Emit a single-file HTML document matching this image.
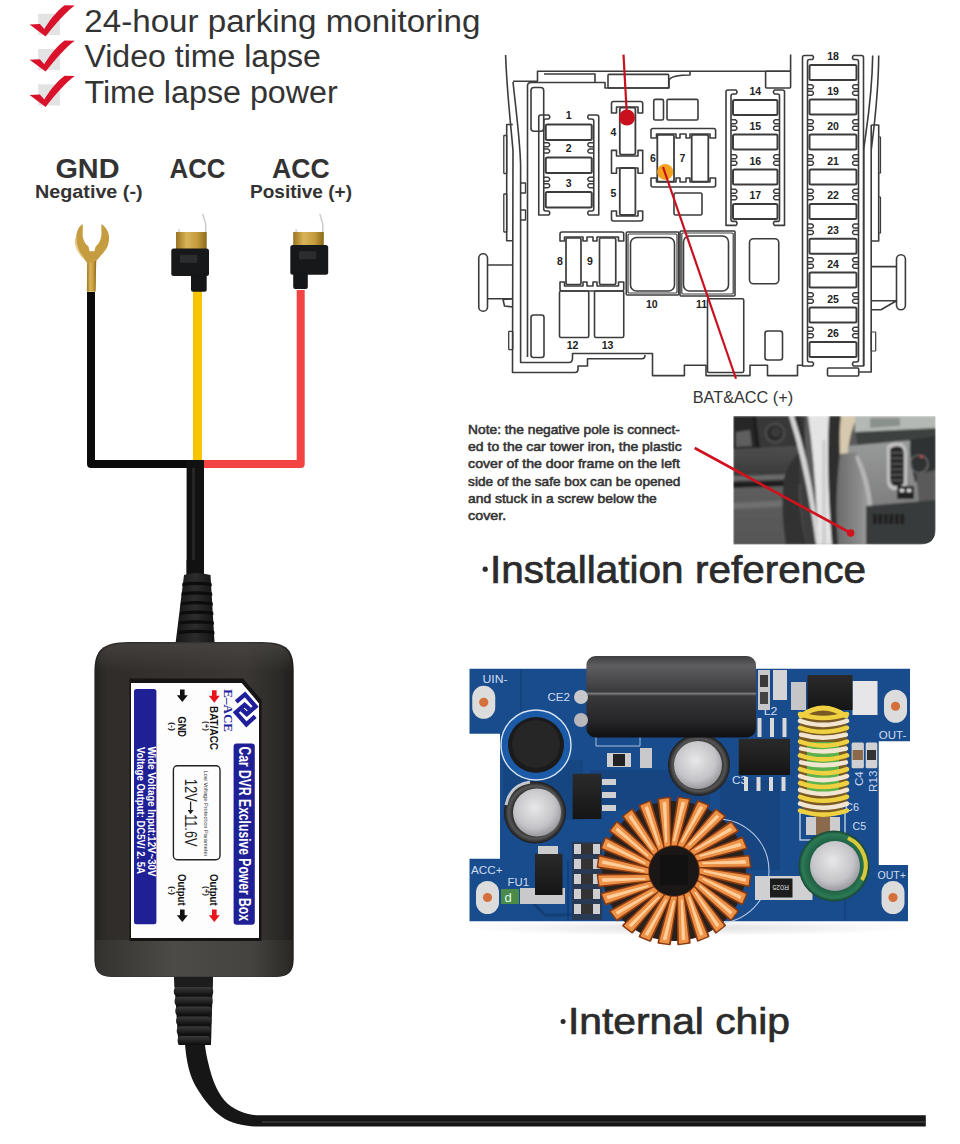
<!DOCTYPE html>
<html><head><meta charset="utf-8">
<style>
html,body{margin:0;padding:0;background:#fff;}
body{width:960px;height:1144px;overflow:hidden;position:relative;font-family:"Liberation Sans", sans-serif;}
svg{position:absolute;left:0;top:0;}
</style></head><body>
<svg width="960" height="1144" viewBox="0 0 960 1144" font-family='"Liberation Sans", sans-serif'>
<rect x="38.2" y="13.8" width="21.8" height="21.2" fill="#e3e3e3"/><path d="M29.6 24.6 L39.9 24.1 L44.3 29.0 C48.5 22 55 12.5 64.6 5.2 L74.9 5.6 C67 11 55.5 24 45.6 36.4 Z" fill="#d9122b"/><rect x="38.2" y="49.0" width="21.8" height="21.2" fill="#e3e3e3"/><path d="M29.6 59.800000000000004 L39.9 59.300000000000004 L44.3 64.2 C48.5 57.2 55 47.7 64.6 40.400000000000006 L74.9 40.800000000000004 C67 46.2 55.5 59.2 45.6 71.6 Z" fill="#d9122b"/><rect x="38.2" y="84.3" width="21.8" height="21.2" fill="#e3e3e3"/><path d="M29.6 95.1 L39.9 94.6 L44.3 99.5 C48.5 92.5 55 83.0 64.6 75.7 L74.9 76.1 C67 81.5 55.5 94.5 45.6 106.9 Z" fill="#d9122b"/><text x="84.3" y="31.8" font-size="31" font-weight="normal" fill="#333" text-anchor="start" textLength="396.1" lengthAdjust="spacingAndGlyphs" >24-hour parking monitoring</text><text x="84.4" y="67.1" font-size="31" font-weight="normal" fill="#333" text-anchor="start" textLength="236.5" lengthAdjust="spacingAndGlyphs" >Video time lapse</text><text x="84.4" y="102.5" font-size="31" font-weight="normal" fill="#333" text-anchor="start" textLength="253.4" lengthAdjust="spacingAndGlyphs" >Time lapse power</text><text x="55.4" y="177.7" font-size="27.5" font-weight="bold" fill="#333" text-anchor="start" textLength="64.1" lengthAdjust="spacingAndGlyphs" >GND</text><text x="169.5" y="178" font-size="27.5" font-weight="bold" fill="#333" text-anchor="start" textLength="56" lengthAdjust="spacingAndGlyphs" >ACC</text><text x="272" y="178" font-size="27.5" font-weight="bold" fill="#333" text-anchor="start" textLength="57.7" lengthAdjust="spacingAndGlyphs" >ACC</text><text x="35" y="197.6" font-size="19" font-weight="bold" fill="#333" text-anchor="start" textLength="107.6" lengthAdjust="spacingAndGlyphs" >Negative (-)</text><text x="250" y="197.8" font-size="19" font-weight="bold" fill="#333" text-anchor="start" textLength="102" lengthAdjust="spacingAndGlyphs" >Positive (+)</text><path d="M91 292 L91 464 L195 464" stroke="#0b0b0b" stroke-width="8" fill="none" stroke-linejoin="round"/><path d="M197.5 290 L197.5 462" stroke="#f8c400" stroke-width="9" fill="none"/><path d="M300.7 290 L300.7 464 L203 464" stroke="#f44343" stroke-width="8" fill="none" stroke-linejoin="round"/><rect x="186.6" y="460" width="17.4" height="116" fill="#111"/><rect x="192" y="468" width="3" height="100" fill="#333" opacity="0.6"/><defs><linearGradient id="gold" x1="0" x2="1"><stop offset="0" stop-color="#9a7420"/><stop offset="0.35" stop-color="#d8b45a"/><stop offset="0.7" stop-color="#c49a3c"/><stop offset="1" stop-color="#8c6a1c"/></linearGradient><linearGradient id="boxg" x1="0" x2="1"><stop offset="0" stop-color="#2a2724"/><stop offset="0.15" stop-color="#34312d"/><stop offset="0.6" stop-color="#3e3b38"/><stop offset="1" stop-color="#252320"/></linearGradient><linearGradient id="boxb" x1="0" x2="1"><stop offset="0" stop-color="#3a3835"/><stop offset="0.5" stop-color="#4e4c49"/><stop offset="1" stop-color="#2e2c29"/></linearGradient></defs><path d="M82.8 223.9 C76 228 73.5 240 79.9 252.2 C82 256 85 260 87.3 263.3 L86.9 291.6 L95.5 291.6 L96.2 261.1 C100 256 107 250 108.1 244.7 C110 238 110 230 101.4 223.9 L101.4 231 C102 238 99.5 244 95.8 246.2 L94.3 251.2 L89.6 251.2 L88.4 246.2 C84.5 244 82 238 82.8 231 Z" fill="#c59c40"/><path d="M87.3 263.3 L96.2 261.1 L95.5 291.6 L86.9 291.6 Z" fill="url(#gold)"/><path d="M76 238 C75 246 78 252 84 258" stroke="#d9b560" stroke-width="2" fill="none" opacity="0.7"/><path d="M202.7 214 L205.7 224 L205.7 233" stroke="#cfcfcf" stroke-width="1.6" fill="none"/><rect x="178" y="229" width="2" height="4" fill="#ddd"/><rect x="176" y="232" width="30.69999999999999" height="17.5" fill="url(#gold)"/><rect x="171.3" y="248.5" width="37.69999999999999" height="27.5" rx="2.5" fill="#171819"/><rect x="180.0" y="254.8" width="17.2" height="8" fill="#2c2d2e"/><rect x="191" y="274" width="15.699999999999989" height="17.80000000000001" rx="2" fill="#151617"/><path d="M319.8 214 L322.8 224 L322.8 233" stroke="#cfcfcf" stroke-width="1.6" fill="none"/><rect x="295.2" y="229" width="2" height="4" fill="#ddd"/><rect x="293.2" y="232" width="30.600000000000023" height="14" fill="url(#gold)"/><rect x="290.3" y="245" width="37.89999999999998" height="29.69999999999999" rx="2.5" fill="#171819"/><rect x="299.0" y="251.3" width="17.2" height="8" fill="#2c2d2e"/><rect x="293.2" y="272.7" width="14.600000000000023" height="16.30000000000001" rx="2" fill="#151617"/><defs><linearGradient id="bxg" x1="0" x2="1"><stop offset="0" stop-color="#242220"/><stop offset="0.06" stop-color="#2f2c29"/><stop offset="0.35" stop-color="#34312e"/><stop offset="0.75" stop-color="#3a3734"/><stop offset="0.93" stop-color="#2c2a27"/><stop offset="1" stop-color="#1f1d1b"/></linearGradient><linearGradient id="bxt" x1="0" x2="0" y1="0" y2="1"><stop offset="0" stop-color="#3c3a37"/><stop offset="1" stop-color="#2e2b28"/></linearGradient><linearGradient id="bxb" x1="0" x2="1"><stop offset="0" stop-color="#34322f"/><stop offset="0.4" stop-color="#4d4b48"/><stop offset="0.8" stop-color="#45433f"/><stop offset="1" stop-color="#2a2825"/></linearGradient><linearGradient id="boot" x1="0" x2="1"><stop offset="0" stop-color="#161616"/><stop offset="0.5" stop-color="#2c2c2c"/><stop offset="1" stop-color="#141414"/></linearGradient></defs><path d="M186.6 560 L204 560 L204 576 L186.6 576 Z" fill="#111"/><path d="M184 575 Q195 571 210.5 575 L214.5 642 L175.7 642 Z" fill="url(#boot)"/><path d="M182.5 583.0 Q195 580.5 211.5 583.0 L211.8 586.2 Q195 583.8 182.2 586.2 Z" fill="#0c0c0c"/><path d="M181.75 592.6 Q195 590.1 212.05 592.6 L212.35000000000002 595.8000000000001 Q195 593.4 181.45 595.8000000000001 Z" fill="#0c0c0c"/><path d="M181.0 602.2 Q195 599.7 212.6 602.2 L212.9 605.4000000000001 Q195 603.0 180.7 605.4000000000001 Z" fill="#0c0c0c"/><path d="M180.25 611.8 Q195 609.3 213.15 611.8 L213.45000000000002 615.0 Q195 612.5999999999999 179.95 615.0 Z" fill="#0c0c0c"/><path d="M179.5 621.4 Q195 618.9 213.7 621.4 L214.0 624.6 Q195 622.1999999999999 179.2 624.6 Z" fill="#0c0c0c"/><path d="M178.75 631.0 Q195 628.5 214.25 631.0 L214.55 634.2 Q195 631.8 178.45 634.2 Z" fill="#0c0c0c"/><path d="M94.4 672 C94.4 650 102 642.5 128 642 L262 642 C288 642.5 293.7 650 293.7 672 L293.7 958 C293.7 972 289 977 274 977 L114 977 C99 977 94.4 972 94.4 958 Z" fill="url(#bxg)"/><linearGradient id="toprim" x1="0" x2="0" y1="0" y2="1"><stop offset="0" stop-color="#4a4744" stop-opacity="0.7"/><stop offset="1" stop-color="#4a4744" stop-opacity="0"/></linearGradient><path d="M96 672 C96 652 103 643.5 128 643.5 L262 643.5 C287 643.5 292 652 292 672 Z" fill="url(#toprim)"/><path d="M96 940 L292 940 L292.5 960 C292.5 972 288 976.5 274 976.5 L114 976.5 C100 976.5 95.5 972 95.5 960 Z" fill="url(#bxb)"/><path d="M129.5 678.5 L243 678.5 L261.5 700 L261.5 941 L129.5 941 Z" fill="#151412"/><path d="M131 683 L241.7 683 L259 703.4 L259 938 L131 938 Z" fill="#fdfdfd"/><rect x="134" y="688.9" width="22.4" height="235.3" rx="2.5" fill="#1f1f96"/><rect x="233.6" y="743.5" width="21.2" height="181.2" rx="3" fill="#1f1f96"/><text transform="translate(148.0 746.5) rotate(90)" x="0" y="0" font-size="10.2" font-weight="bold" fill="#fff" textLength="130" lengthAdjust="spacingAndGlyphs" >Wide Voltage Input:12V~30V</text><text transform="translate(136.5 747) rotate(90)" x="0" y="0" font-size="10.8" font-weight="bold" fill="#fff" textLength="127" lengthAdjust="spacingAndGlyphs" >Voltage  Output: DC5V/ 2. 5A</text><text transform="translate(239.3 746.5) rotate(90)" x="0" y="0" font-size="16" font-weight="bold" fill="#fff" textLength="174.5" lengthAdjust="spacingAndGlyphs" >Car DVR Exclusive Power Box</text><path d="M179.99 689.6 L184.61 689.6 L184.61 695.225 L187.8 695.225 L182.3 702.1 L176.8 695.225 L179.99 695.225 Z" fill="#111"/><path d="M211.99 690.2 L216.61 690.2 L216.61 695.825 L219.8 695.825 L214.3 702.7 L208.8 695.825 L211.99 695.825 Z" fill="#e8141c"/><path d="M179.99 909.5 L184.61 909.5 L184.61 915.125 L187.8 915.125 L182.3 922.0 L176.8 915.125 L179.99 915.125 Z" fill="#111"/><path d="M211.99 909.5 L216.61 909.5 L216.61 915.125 L219.8 915.125 L214.3 922.0 L208.8 915.125 L211.99 915.125 Z" fill="#e8141c"/><text transform="translate(210.3 706) rotate(90)" x="0" y="0" font-size="10.5" font-weight="bold" fill="#111" textLength="44" lengthAdjust="spacingAndGlyphs" >BAT/ACC</text><text transform="translate(203.8 721) rotate(90)" x="0" y="0" font-size="6.5" font-weight="bold" fill="#222" textLength="10" lengthAdjust="spacingAndGlyphs" >(+)</text><text transform="translate(177.5 716.6) rotate(90)" x="0" y="0" font-size="10" font-weight="bold" fill="#111" textLength="20.4" lengthAdjust="spacingAndGlyphs" >GND</text><text transform="translate(170.2 722) rotate(90)" x="0" y="0" font-size="6.5" font-weight="bold" fill="#222" textLength="9" lengthAdjust="spacingAndGlyphs" >(-)</text><text transform="translate(210.3 874) rotate(90)" x="0" y="0" font-size="10.5" font-weight="bold" fill="#111" textLength="31.7" lengthAdjust="spacingAndGlyphs" >Output</text><text transform="translate(203.8 886) rotate(90)" x="0" y="0" font-size="6.5" font-weight="bold" fill="#222" textLength="10" lengthAdjust="spacingAndGlyphs" >(+)</text><text transform="translate(177.5 874) rotate(90)" x="0" y="0" font-size="10.5" font-weight="bold" fill="#111" textLength="31.7" lengthAdjust="spacingAndGlyphs" >Output</text><text transform="translate(170.2 886) rotate(90)" x="0" y="0" font-size="6.5" font-weight="bold" fill="#222" textLength="9" lengthAdjust="spacingAndGlyphs" >(-)</text><rect x="173.4" y="765.8" width="46.6" height="94" rx="4" fill="none" stroke="#222" stroke-width="1.4"/><text transform="translate(184.8 778.8) rotate(90)" x="0" y="0" font-size="16" font-weight="normal" fill="#222" textLength="23" lengthAdjust="spacingAndGlyphs" >12V</text><path d="M190.6 801.5 L190.6 812" stroke="#222" stroke-width="1.3" fill="none"/><path d="M187.6 810 L190.6 814.2 L193.6 810 Z" fill="#222"/><text transform="translate(184.8 814.2) rotate(90)" x="0" y="0" font-size="16" font-weight="normal" fill="#222" textLength="32.2" lengthAdjust="spacingAndGlyphs" >11.6V</text><text transform="translate(204 770.5) rotate(90)" x="0" y="0" font-size="5.8" font-weight="normal" fill="#333" textLength="86" lengthAdjust="spacingAndGlyphs" >Low Voltage Protection Parameter</text><text transform="translate(224.4 689.3) rotate(90)" x="0" y="0" font-size="13.5" font-weight="bold" fill="#22229a" font-family='"Liberation Serif", serif' textLength="42.7" lengthAdjust="spacingAndGlyphs" >E–ACE</text><path d="M236.2 701.8 L245 694.4 L255.6 706.6 L246.8 714.2 L241.8 709.6" stroke="#1f1f9c" stroke-width="4.3" fill="none" stroke-linejoin="miter"/><path d="M255.2 716.4 L246.4 724.4 L235.8 712.4 L244.6 704.8 L249.6 709.4" stroke="#1f1f9c" stroke-width="4.3" fill="none" stroke-linejoin="miter"/><linearGradient id="rib" x1="0" x2="0" y1="0" y2="1"><stop offset="0" stop-color="#3a3a3a"/><stop offset="0.45" stop-color="#262626"/><stop offset="1" stop-color="#0c0c0c"/></linearGradient><path d="M184.7 1040 C186 1062 190 1078 198 1090 C205 1101 212 1110 222 1117 C232 1124 245 1126.6 262 1126.6 L925.8 1126.6 L925.8 1115.2 L262 1115.2 C249 1115.8 238 1112 228 1104 C219 1096 213 1082 209.5 1068 C207 1058 205 1050 204.7 1040 Z" fill="#161616"/><path d="M262 1122 L925 1122" stroke="#3a3a3a" stroke-width="1.6" fill="none"/><path d="M174 977 L213 977 L211 1045 L178.5 1045 Z" fill="#141414"/><rect x="174.5" y="977" width="38" height="10" fill="#1d1d1d"/><rect x="173.8" y="987.0" width="39.4" height="9" rx="4" fill="url(#rib)"/><rect x="174.6" y="996.8" width="38.0" height="9" rx="4" fill="url(#rib)"/><rect x="175.3" y="1006.6" width="36.7" height="9" rx="4" fill="url(#rib)"/><rect x="176.1" y="1016.4" width="35.3" height="9" rx="4" fill="url(#rib)"/><rect x="176.8" y="1026.2" width="34.0" height="9" rx="4" fill="url(#rib)"/><rect x="177.6" y="1036.0" width="32.6" height="9" rx="4" fill="url(#rib)"/><path d="M505.6 55 C507 95 511 125 513 151 L512.5 372.5 L575 372.5 Q578 372.5 578 369 L578 366 L587.5 366 L587.5 358.75 L642 358.75 Q645 358.75 645 355" stroke="#3c3c3c" stroke-width="1.6" fill="none" stroke-linejoin="round"/><path d="M513 81.3 L537.5 81.3 L537.5 71.3 L790.6 71.3 L790.6 54.6" stroke="#3c3c3c" stroke-width="1.6" fill="none" stroke-linejoin="round"/><path d="M513 82 C516 110 520 140 520.6 165 L520.6 362.5 L569 362.5 Q572.5 362.5 572.5 358 L572.5 353.5 L652.5 353.5 L652.5 375.6 L684.4 375.6 L684.4 365.3 L706 365.3 L706 375.6 L750 375.6 L750 365.3 L767.5 365.3 L767.5 375.6 L797.5 375.6 L797.5 365.3 L803 365.3" stroke="#3c3c3c" stroke-width="1.6" fill="none" stroke-linejoin="round"/><path d="M527.5 357 L527.5 86 Q527.5 82.5 531 82.5 L605 82.5 L605 88 L669 88 L669 80 Q672 75 690 75 L690 71.3" stroke="#3c3c3c" stroke-width="1.6" fill="none" stroke-linejoin="round"/><path d="M544 74 L595 74 L595 82.5" stroke="#3c3c3c" stroke-width="1.6" fill="none" stroke-linejoin="round"/><rect x="608" y="74.4" width="60.7" height="13.6" rx="1" stroke="#3c3c3c" stroke-width="1.6" fill="none"/><rect x="765.6" y="71.3" width="25" height="16.7" rx="1" stroke="#3c3c3c" stroke-width="1.6" fill="none"/><path d="M512.8 124.5 L506.7 124.5 L506.7 240.7 L512.8 240.7" stroke="#3c3c3c" stroke-width="1.6" fill="none" stroke-linejoin="round"/><rect x="503.8" y="135.5" width="2.9" height="38" rx="0.5" stroke="#3c3c3c" stroke-width="1.3" fill="none"/><rect x="503.8" y="194" width="2.9" height="38" rx="0.5" stroke="#3c3c3c" stroke-width="1.3" fill="none"/><rect x="508.7" y="331.3" width="4.1" height="18.3" rx="0.5" stroke="#3c3c3c" stroke-width="1.3" fill="none"/><path d="M512.8 298.75 L503 299.5 L504.5 306 L512.8 307" stroke="#3c3c3c" stroke-width="1.6" fill="none" stroke-linejoin="round"/><path d="M520.6 183 L525.5 183 L525.5 193 L520.6 193 M520.6 210 L525.5 210 L525.5 220 L520.6 220" stroke="#3c3c3c" stroke-width="1.3" fill="none" stroke-linejoin="round"/><rect x="478.75" y="253.75" width="8.75" height="57.5" rx="4.3" stroke="#3c3c3c" stroke-width="1.6" fill="none"/><path d="M487.5 265 L512.8 265 M487.5 298.75 L512.8 298.75" stroke="#3c3c3c" stroke-width="1.6" fill="none" stroke-linejoin="round"/><path d="M872.7 55.4 C872 100 866 130 863.8 149 L863.8 366" stroke="#3c3c3c" stroke-width="1.6" fill="none" stroke-linejoin="round"/><path d="M878.7 55.4 C878.5 95 874 128 871.2 150 M871.2 125 L871.2 372 L859 372" stroke="#3c3c3c" stroke-width="1.6" fill="none" stroke-linejoin="round"/><path d="M871.2 125 L878.7 125 L878.7 241 L871.2 241" stroke="#3c3c3c" stroke-width="1.6" fill="none" stroke-linejoin="round"/><path d="M878.7 137 L880.5 137 L880.5 173 L878.7 173 M878.7 197 L880.5 197 L880.5 233 L878.7 233" stroke="#3c3c3c" stroke-width="1.2" fill="none" stroke-linejoin="round"/><rect x="896.5" y="254.7" width="8.9" height="55" rx="4.4" stroke="#3c3c3c" stroke-width="1.6" fill="none"/><path d="M871.2 266.6 L896.5 266.6 M871.2 300.8 L896.5 300.8 L881 309.7 L871.2 309.7" stroke="#3c3c3c" stroke-width="1.6" fill="none" stroke-linejoin="round"/><rect x="871.2" y="332" width="4.5" height="19" rx="0.5" stroke="#3c3c3c" stroke-width="1.2" fill="none"/><rect x="827.5" y="368" width="31.2" height="8" rx="1" stroke="#3c3c3c" stroke-width="1.6" fill="none"/><rect x="531" y="87.5" width="12.7" height="43.7" rx="3" stroke="#3c3c3c" stroke-width="1.6" fill="none"/><path d="M538.75 215 L538.75 117 Q538.75 115 540.75 115 L548.75 115 Q550.75 117 548.75 119 L545.75 119 Q543.75 119 543.75 121 L543.75 209 Q543.75 211 545.75 211 L548.75 211 Q550.75 213 548.75 215 Z" stroke="#3c3c3c" stroke-width="1.6" fill="none" stroke-linejoin="round"/><path d="M598.75 215 L598.75 117 Q598.75 115 596.75 115 L588.75 115 Q586.75 117 588.75 119 L591.75 119 Q593.75 119 593.75 121 L593.75 209 Q593.75 211 591.75 211 L588.75 211 Q586.75 213 588.75 215 Z" stroke="#3c3c3c" stroke-width="1.6" fill="none" stroke-linejoin="round"/><rect x="545.75" y="124.4" width="46.0" height="15.5" rx="1.5" stroke="#3c3c3c" stroke-width="2.0" fill="none"/><text x="568.75" y="119.4" font-size="10.5" font-weight="bold" fill="#222" text-anchor="middle">1</text><rect x="545.75" y="157.4" width="46.0" height="15.5" rx="1.5" stroke="#3c3c3c" stroke-width="2.0" fill="none"/><path d="M543.75 142.70000000000002 L548.25 142.70000000000002 Q551.25 144.70000000000002 548.25 146.70000000000002 L543.75 146.70000000000002" stroke="#3c3c3c" stroke-width="1.5" fill="none" stroke-linejoin="round"/><path d="M543.75 149.1 L548.25 149.1 Q551.25 151.1 548.25 153.1 L543.75 153.1" stroke="#3c3c3c" stroke-width="1.5" fill="none" stroke-linejoin="round"/><path d="M593.75 142.70000000000002 L589.25 142.70000000000002 Q586.25 144.70000000000002 589.25 146.70000000000002 L593.75 146.70000000000002" stroke="#3c3c3c" stroke-width="1.5" fill="none" stroke-linejoin="round"/><path d="M593.75 149.1 L589.25 149.1 Q586.25 151.1 589.25 153.1 L593.75 153.1" stroke="#3c3c3c" stroke-width="1.5" fill="none" stroke-linejoin="round"/><text x="568.75" y="152.4" font-size="10.5" font-weight="bold" fill="#222" text-anchor="middle">2</text><rect x="545.75" y="192" width="46.0" height="15.5" rx="1.5" stroke="#3c3c3c" stroke-width="2.0" fill="none"/><path d="M543.75 177.3 L548.25 177.3 Q551.25 179.3 548.25 181.3 L543.75 181.3" stroke="#3c3c3c" stroke-width="1.5" fill="none" stroke-linejoin="round"/><path d="M543.75 183.7 L548.25 183.7 Q551.25 185.7 548.25 187.7 L543.75 187.7" stroke="#3c3c3c" stroke-width="1.5" fill="none" stroke-linejoin="round"/><path d="M593.75 177.3 L589.25 177.3 Q586.25 179.3 589.25 181.3 L593.75 181.3" stroke="#3c3c3c" stroke-width="1.5" fill="none" stroke-linejoin="round"/><path d="M593.75 183.7 L589.25 183.7 Q586.25 185.7 589.25 187.7 L593.75 187.7" stroke="#3c3c3c" stroke-width="1.5" fill="none" stroke-linejoin="round"/><text x="568.75" y="187" font-size="10.5" font-weight="bold" fill="#222" text-anchor="middle">3</text><path d="M726 225.4 L726 92 Q726 90 728 90 L736 90 Q738 92 736 94 L733 94 Q731 94 731 96 L731 219.4 Q731 221.4 733 221.4 L736 221.4 Q738 223.4 736 225.4 Z" stroke="#3c3c3c" stroke-width="1.6" fill="none" stroke-linejoin="round"/><path d="M784.5 225.4 L784.5 92 Q784.5 90 782.5 90 L774.5 90 Q772.5 92 774.5 94 L777.5 94 Q779.5 94 779.5 96 L779.5 219.4 Q779.5 221.4 777.5 221.4 L774.5 221.4 Q772.5 223.4 774.5 225.4 Z" stroke="#3c3c3c" stroke-width="1.6" fill="none" stroke-linejoin="round"/><rect x="733" y="100" width="44.5" height="15" rx="1.5" stroke="#3c3c3c" stroke-width="2.0" fill="none"/><text x="755.25" y="95" font-size="10.5" font-weight="bold" fill="#222" text-anchor="middle">14</text><rect x="733" y="134.5" width="44.5" height="15" rx="1.5" stroke="#3c3c3c" stroke-width="2.0" fill="none"/><path d="M731 119.8 L735.5 119.8 Q738.5 121.8 735.5 123.8 L731 123.8" stroke="#3c3c3c" stroke-width="1.5" fill="none" stroke-linejoin="round"/><path d="M731 126.19999999999999 L735.5 126.19999999999999 Q738.5 128.2 735.5 130.2 L731 130.2" stroke="#3c3c3c" stroke-width="1.5" fill="none" stroke-linejoin="round"/><path d="M779.5 119.8 L775.0 119.8 Q772.0 121.8 775.0 123.8 L779.5 123.8" stroke="#3c3c3c" stroke-width="1.5" fill="none" stroke-linejoin="round"/><path d="M779.5 126.19999999999999 L775.0 126.19999999999999 Q772.0 128.2 775.0 130.2 L779.5 130.2" stroke="#3c3c3c" stroke-width="1.5" fill="none" stroke-linejoin="round"/><text x="755.25" y="129.5" font-size="10.5" font-weight="bold" fill="#222" text-anchor="middle">15</text><rect x="733" y="169.5" width="44.5" height="15" rx="1.5" stroke="#3c3c3c" stroke-width="2.0" fill="none"/><path d="M731 154.8 L735.5 154.8 Q738.5 156.8 735.5 158.8 L731 158.8" stroke="#3c3c3c" stroke-width="1.5" fill="none" stroke-linejoin="round"/><path d="M731 161.2 L735.5 161.2 Q738.5 163.2 735.5 165.2 L731 165.2" stroke="#3c3c3c" stroke-width="1.5" fill="none" stroke-linejoin="round"/><path d="M779.5 154.8 L775.0 154.8 Q772.0 156.8 775.0 158.8 L779.5 158.8" stroke="#3c3c3c" stroke-width="1.5" fill="none" stroke-linejoin="round"/><path d="M779.5 161.2 L775.0 161.2 Q772.0 163.2 775.0 165.2 L779.5 165.2" stroke="#3c3c3c" stroke-width="1.5" fill="none" stroke-linejoin="round"/><text x="755.25" y="164.5" font-size="10.5" font-weight="bold" fill="#222" text-anchor="middle">16</text><rect x="733" y="204" width="44.5" height="15" rx="1.5" stroke="#3c3c3c" stroke-width="2.0" fill="none"/><path d="M731 189.3 L735.5 189.3 Q738.5 191.3 735.5 193.3 L731 193.3" stroke="#3c3c3c" stroke-width="1.5" fill="none" stroke-linejoin="round"/><path d="M731 195.7 L735.5 195.7 Q738.5 197.7 735.5 199.7 L731 199.7" stroke="#3c3c3c" stroke-width="1.5" fill="none" stroke-linejoin="round"/><path d="M779.5 189.3 L775.0 189.3 Q772.0 191.3 775.0 193.3 L779.5 193.3" stroke="#3c3c3c" stroke-width="1.5" fill="none" stroke-linejoin="round"/><path d="M779.5 195.7 L775.0 195.7 Q772.0 197.7 775.0 199.7 L779.5 199.7" stroke="#3c3c3c" stroke-width="1.5" fill="none" stroke-linejoin="round"/><text x="755.25" y="199" font-size="10.5" font-weight="bold" fill="#222" text-anchor="middle">17</text><path d="M802.5 366 L802.5 57.5 Q802.5 55.5 804.5 55.5 L812.5 55.5 Q814.5 57.5 812.5 59.5 L809.5 59.5 Q807.5 59.5 807.5 61.5 L807.5 360 Q807.5 362 809.5 362 L812.5 362 Q814.5 364 812.5 366 Z" stroke="#3c3c3c" stroke-width="1.6" fill="none" stroke-linejoin="round"/><path d="M863.5 366 L863.5 57.5 Q863.5 55.5 861.5 55.5 L853.5 55.5 Q851.5 57.5 853.5 59.5 L856.5 59.5 Q858.5 59.5 858.5 61.5 L858.5 360 Q858.5 362 856.5 362 L853.5 362 Q851.5 364 853.5 366 Z" stroke="#3c3c3c" stroke-width="1.6" fill="none" stroke-linejoin="round"/><rect x="809.5" y="65" width="47.0" height="15" rx="1.5" stroke="#3c3c3c" stroke-width="2.0" fill="none"/><text x="833.0" y="60" font-size="10.5" font-weight="bold" fill="#222" text-anchor="middle">18</text><rect x="809.5" y="99.5" width="47.0" height="15" rx="1.5" stroke="#3c3c3c" stroke-width="2.0" fill="none"/><path d="M807.5 84.8 L812.0 84.8 Q815.0 86.8 812.0 88.8 L807.5 88.8" stroke="#3c3c3c" stroke-width="1.5" fill="none" stroke-linejoin="round"/><path d="M807.5 91.2 L812.0 91.2 Q815.0 93.2 812.0 95.2 L807.5 95.2" stroke="#3c3c3c" stroke-width="1.5" fill="none" stroke-linejoin="round"/><path d="M858.5 84.8 L854.0 84.8 Q851.0 86.8 854.0 88.8 L858.5 88.8" stroke="#3c3c3c" stroke-width="1.5" fill="none" stroke-linejoin="round"/><path d="M858.5 91.2 L854.0 91.2 Q851.0 93.2 854.0 95.2 L858.5 95.2" stroke="#3c3c3c" stroke-width="1.5" fill="none" stroke-linejoin="round"/><text x="833.0" y="94.5" font-size="10.5" font-weight="bold" fill="#222" text-anchor="middle">19</text><rect x="809.5" y="134.5" width="47.0" height="15" rx="1.5" stroke="#3c3c3c" stroke-width="2.0" fill="none"/><path d="M807.5 119.8 L812.0 119.8 Q815.0 121.8 812.0 123.8 L807.5 123.8" stroke="#3c3c3c" stroke-width="1.5" fill="none" stroke-linejoin="round"/><path d="M807.5 126.19999999999999 L812.0 126.19999999999999 Q815.0 128.2 812.0 130.2 L807.5 130.2" stroke="#3c3c3c" stroke-width="1.5" fill="none" stroke-linejoin="round"/><path d="M858.5 119.8 L854.0 119.8 Q851.0 121.8 854.0 123.8 L858.5 123.8" stroke="#3c3c3c" stroke-width="1.5" fill="none" stroke-linejoin="round"/><path d="M858.5 126.19999999999999 L854.0 126.19999999999999 Q851.0 128.2 854.0 130.2 L858.5 130.2" stroke="#3c3c3c" stroke-width="1.5" fill="none" stroke-linejoin="round"/><text x="833.0" y="129.5" font-size="10.5" font-weight="bold" fill="#222" text-anchor="middle">20</text><rect x="809.5" y="169.5" width="47.0" height="15" rx="1.5" stroke="#3c3c3c" stroke-width="2.0" fill="none"/><path d="M807.5 154.8 L812.0 154.8 Q815.0 156.8 812.0 158.8 L807.5 158.8" stroke="#3c3c3c" stroke-width="1.5" fill="none" stroke-linejoin="round"/><path d="M807.5 161.2 L812.0 161.2 Q815.0 163.2 812.0 165.2 L807.5 165.2" stroke="#3c3c3c" stroke-width="1.5" fill="none" stroke-linejoin="round"/><path d="M858.5 154.8 L854.0 154.8 Q851.0 156.8 854.0 158.8 L858.5 158.8" stroke="#3c3c3c" stroke-width="1.5" fill="none" stroke-linejoin="round"/><path d="M858.5 161.2 L854.0 161.2 Q851.0 163.2 854.0 165.2 L858.5 165.2" stroke="#3c3c3c" stroke-width="1.5" fill="none" stroke-linejoin="round"/><text x="833.0" y="164.5" font-size="10.5" font-weight="bold" fill="#222" text-anchor="middle">21</text><rect x="809.5" y="204" width="47.0" height="15" rx="1.5" stroke="#3c3c3c" stroke-width="2.0" fill="none"/><path d="M807.5 189.3 L812.0 189.3 Q815.0 191.3 812.0 193.3 L807.5 193.3" stroke="#3c3c3c" stroke-width="1.5" fill="none" stroke-linejoin="round"/><path d="M807.5 195.7 L812.0 195.7 Q815.0 197.7 812.0 199.7 L807.5 199.7" stroke="#3c3c3c" stroke-width="1.5" fill="none" stroke-linejoin="round"/><path d="M858.5 189.3 L854.0 189.3 Q851.0 191.3 854.0 193.3 L858.5 193.3" stroke="#3c3c3c" stroke-width="1.5" fill="none" stroke-linejoin="round"/><path d="M858.5 195.7 L854.0 195.7 Q851.0 197.7 854.0 199.7 L858.5 199.7" stroke="#3c3c3c" stroke-width="1.5" fill="none" stroke-linejoin="round"/><text x="833.0" y="199" font-size="10.5" font-weight="bold" fill="#222" text-anchor="middle">22</text><rect x="809.5" y="238.75" width="47.0" height="15" rx="1.5" stroke="#3c3c3c" stroke-width="2.0" fill="none"/><path d="M807.5 224.05 L812.0 224.05 Q815.0 226.05 812.0 228.05 L807.5 228.05" stroke="#3c3c3c" stroke-width="1.5" fill="none" stroke-linejoin="round"/><path d="M807.5 230.45 L812.0 230.45 Q815.0 232.45 812.0 234.45 L807.5 234.45" stroke="#3c3c3c" stroke-width="1.5" fill="none" stroke-linejoin="round"/><path d="M858.5 224.05 L854.0 224.05 Q851.0 226.05 854.0 228.05 L858.5 228.05" stroke="#3c3c3c" stroke-width="1.5" fill="none" stroke-linejoin="round"/><path d="M858.5 230.45 L854.0 230.45 Q851.0 232.45 854.0 234.45 L858.5 234.45" stroke="#3c3c3c" stroke-width="1.5" fill="none" stroke-linejoin="round"/><text x="833.0" y="233.75" font-size="10.5" font-weight="bold" fill="#222" text-anchor="middle">23</text><rect x="809.5" y="272.5" width="47.0" height="15" rx="1.5" stroke="#3c3c3c" stroke-width="2.0" fill="none"/><path d="M807.5 257.8 L812.0 257.8 Q815.0 259.8 812.0 261.8 L807.5 261.8" stroke="#3c3c3c" stroke-width="1.5" fill="none" stroke-linejoin="round"/><path d="M807.5 264.2 L812.0 264.2 Q815.0 266.2 812.0 268.2 L807.5 268.2" stroke="#3c3c3c" stroke-width="1.5" fill="none" stroke-linejoin="round"/><path d="M858.5 257.8 L854.0 257.8 Q851.0 259.8 854.0 261.8 L858.5 261.8" stroke="#3c3c3c" stroke-width="1.5" fill="none" stroke-linejoin="round"/><path d="M858.5 264.2 L854.0 264.2 Q851.0 266.2 854.0 268.2 L858.5 268.2" stroke="#3c3c3c" stroke-width="1.5" fill="none" stroke-linejoin="round"/><text x="833.0" y="267.5" font-size="10.5" font-weight="bold" fill="#222" text-anchor="middle">24</text><rect x="809.5" y="307.5" width="47.0" height="15" rx="1.5" stroke="#3c3c3c" stroke-width="2.0" fill="none"/><path d="M807.5 292.8 L812.0 292.8 Q815.0 294.8 812.0 296.8 L807.5 296.8" stroke="#3c3c3c" stroke-width="1.5" fill="none" stroke-linejoin="round"/><path d="M807.5 299.2 L812.0 299.2 Q815.0 301.2 812.0 303.2 L807.5 303.2" stroke="#3c3c3c" stroke-width="1.5" fill="none" stroke-linejoin="round"/><path d="M858.5 292.8 L854.0 292.8 Q851.0 294.8 854.0 296.8 L858.5 296.8" stroke="#3c3c3c" stroke-width="1.5" fill="none" stroke-linejoin="round"/><path d="M858.5 299.2 L854.0 299.2 Q851.0 301.2 854.0 303.2 L858.5 303.2" stroke="#3c3c3c" stroke-width="1.5" fill="none" stroke-linejoin="round"/><text x="833.0" y="302.5" font-size="10.5" font-weight="bold" fill="#222" text-anchor="middle">25</text><rect x="809.5" y="342" width="47.0" height="15" rx="1.5" stroke="#3c3c3c" stroke-width="2.0" fill="none"/><path d="M807.5 327.3 L812.0 327.3 Q815.0 329.3 812.0 331.3 L807.5 331.3" stroke="#3c3c3c" stroke-width="1.5" fill="none" stroke-linejoin="round"/><path d="M807.5 333.7 L812.0 333.7 Q815.0 335.7 812.0 337.7 L807.5 337.7" stroke="#3c3c3c" stroke-width="1.5" fill="none" stroke-linejoin="round"/><path d="M858.5 327.3 L854.0 327.3 Q851.0 329.3 854.0 331.3 L858.5 331.3" stroke="#3c3c3c" stroke-width="1.5" fill="none" stroke-linejoin="round"/><path d="M858.5 333.7 L854.0 333.7 Q851.0 335.7 854.0 337.7 L858.5 337.7" stroke="#3c3c3c" stroke-width="1.5" fill="none" stroke-linejoin="round"/><text x="833.0" y="337" font-size="10.5" font-weight="bold" fill="#222" text-anchor="middle">26</text><path d="M611.5 113 L611.5 103.5 Q611.5 101.5 613.5 101.5 L640.7 101.5 Q642.7 101.5 642.7 103.5 L642.7 113 L638 113 L638 107 L616.5 107 L616.5 113 Z" stroke="#3c3c3c" stroke-width="1.6" fill="none" stroke-linejoin="round"/><path d="M611.5 150.4 L611.5 173.3 L616.5 173.3 L616.5 168 L638 168 L638 173.3 L642.7 173.3 L642.7 150.4 L638 150.4 L638 156 L616.5 156 L616.5 150.4 Z" stroke="#3c3c3c" stroke-width="1.6" fill="none" stroke-linejoin="round"/><path d="M611.5 211 L611.5 219 Q611.5 221 613.5 221 L640.7 221 Q642.7 221 642.7 219 L642.7 211 L638 211 L638 216 L616.5 216 L616.5 211 Z" stroke="#3c3c3c" stroke-width="1.6" fill="none" stroke-linejoin="round"/><rect x="619.8" y="107.7" width="15.6" height="46.9" rx="1.5" stroke="#3c3c3c" stroke-width="1.8" fill="none"/><rect x="619.8" y="168" width="15.6" height="47" rx="1.5" stroke="#3c3c3c" stroke-width="1.8" fill="none"/><text x="613.5" y="135.5" font-size="10.5" font-weight="bold" fill="#222" text-anchor="middle">4</text><text x="613.5" y="196.5" font-size="10.5" font-weight="bold" fill="#222" text-anchor="middle">5</text><rect x="653.75" y="99.4" width="9.75" height="20.6" rx="1.5" stroke="#3c3c3c" stroke-width="1.6" fill="none"/><rect x="667" y="99.4" width="31" height="20.6" rx="1.5" stroke="#3c3c3c" stroke-width="1.6" fill="none"/><path d="M651 138 L651 130.5 Q651 128.5 653 128.5 L713.6 128.5 Q715.6 128.5 715.6 130.5 L715.6 138 L710 138 L710 134 L690 134 L690 138 L686 138 L686 134 L680 134 L680 138 L676 138 L676 134 L656.5 134 L656.5 138 Z" stroke="#3c3c3c" stroke-width="1.6" fill="none" stroke-linejoin="round"/><path d="M651 178 L651 185 Q651 187 653 187 L713.6 187 Q715.6 187 715.6 185 L715.6 178 L710 178 L710 182 L690 182 L690 178 L686 178 L686 182 L680 182 L680 178 L676 178 L676 182 L656.5 182 L656.5 178 Z" stroke="#3c3c3c" stroke-width="1.6" fill="none" stroke-linejoin="round"/><rect x="657.3" y="134.8" width="16.7" height="46.9" rx="1.5" stroke="#3c3c3c" stroke-width="1.8" fill="none"/><rect x="691.7" y="134.8" width="16.6" height="46.9" rx="1.5" stroke="#3c3c3c" stroke-width="1.8" fill="none"/><text x="653" y="162" font-size="10.5" font-weight="bold" fill="#222" text-anchor="middle">6</text><text x="682.3" y="162" font-size="10.5" font-weight="bold" fill="#222" text-anchor="middle">7</text><rect x="674" y="193" width="28" height="22" rx="1.5" stroke="#3c3c3c" stroke-width="1.6" fill="none"/><path d="M560 241 L560 234 Q560 232 562 232 L621.75 232 Q623.75 232 623.75 234 L623.75 241 L618.5 241 L618.5 237 L597 237 L597 241 L593 241 L593 237 L587 237 L587 241 L583 241 L583 237 L564.5 237 L564.5 241 Z" stroke="#3c3c3c" stroke-width="1.6" fill="none" stroke-linejoin="round"/><path d="M560 282 L560 289 Q560 291 562 291 L621.75 291 Q623.75 291 623.75 289 L623.75 282 L618.5 282 L618.5 286 L597 286 L597 282 L593 282 L593 286 L587 286 L587 282 L583 282 L583 286 L564.5 286 L564.5 282 Z" stroke="#3c3c3c" stroke-width="1.6" fill="none" stroke-linejoin="round"/><rect x="566" y="238" width="15" height="46.5" rx="1.5" stroke="#3c3c3c" stroke-width="1.7" fill="none"/><rect x="599.5" y="238" width="16.25" height="46.5" rx="1.5" stroke="#3c3c3c" stroke-width="1.7" fill="none"/><text x="560" y="265" font-size="10.5" font-weight="bold" fill="#222" text-anchor="middle">8</text><text x="590" y="265" font-size="10.5" font-weight="bold" fill="#222" text-anchor="middle">9</text><rect x="626.25" y="232" width="52.5" height="63" rx="1" stroke="#3c3c3c" stroke-width="1.6" fill="none"/><rect x="628" y="234" width="49" height="59" rx="1" stroke="#3c3c3c" stroke-width="1.2" fill="none"/><rect x="630.5" y="237.5" width="44" height="53.5" rx="6" stroke="#3c3c3c" stroke-width="1.6" fill="none"/><rect x="680" y="231" width="55" height="65" rx="1" stroke="#3c3c3c" stroke-width="1.6" fill="none"/><rect x="681.8" y="233" width="51.4" height="61" rx="1" stroke="#3c3c3c" stroke-width="1.2" fill="none"/><rect x="683.5" y="236" width="45" height="55" rx="6" stroke="#3c3c3c" stroke-width="1.6" fill="none"/><text x="651.75" y="308" font-size="10.5" font-weight="bold" fill="#222" text-anchor="middle">10</text><text x="701.5" y="308" font-size="10.5" font-weight="bold" fill="#222" text-anchor="middle">11</text><rect x="559.5" y="291" width="29.25" height="46.5" rx="1.5" stroke="#3c3c3c" stroke-width="1.6" fill="none"/><rect x="594.5" y="291" width="29.25" height="46.5" rx="1.5" stroke="#3c3c3c" stroke-width="1.6" fill="none"/><text x="572.5" y="349" font-size="10.5" font-weight="bold" fill="#222" text-anchor="middle">12</text><text x="607.5" y="349" font-size="10.5" font-weight="bold" fill="#222" text-anchor="middle">13</text><rect x="707.5" y="298.75" width="36.25" height="73.75" rx="1.5" stroke="#3c3c3c" stroke-width="1.6" fill="none"/><rect x="749.5" y="238.75" width="29.25" height="45" rx="4" stroke="#3c3c3c" stroke-width="1.6" fill="none"/><rect x="765" y="331" width="17.5" height="29" rx="2.5" stroke="#3c3c3c" stroke-width="1.6" fill="none"/><rect x="531" y="315" width="13" height="42.5" rx="2.5" stroke="#3c3c3c" stroke-width="1.6" fill="none"/><path d="M623.5 54.6 L627 117.5" stroke="#c8101e" stroke-width="2.2" fill="none"/><circle cx="627" cy="117.5" r="8" fill="#c8101e"/><circle cx="665.2" cy="171.9" r="8" fill="#f2a21c"/><path d="M663 167 L736 378.75" stroke="#c8101e" stroke-width="2.2" fill="none"/><text x="692.75" y="402.5" font-size="16" font-weight="normal" fill="#333" text-anchor="start" textLength="100.4" lengthAdjust="spacingAndGlyphs" >BAT&amp;ACC (+)</text><defs><radialGradient id="silv" cx="0.45" cy="0.4" r="0.6"><stop offset="0" stop-color="#e8e8ea"/><stop offset="0.7" stop-color="#c4c4c8"/><stop offset="1" stop-color="#9a9aa0"/></radialGradient><radialGradient id="capring" cx="0.5" cy="0.5" r="0.5"><stop offset="0.7" stop-color="#2a2a2a"/><stop offset="0.85" stop-color="#555"/><stop offset="1" stop-color="#1a1a1a"/></radialGradient><linearGradient id="ind" x1="0" x2="0" y1="0" y2="1"><stop offset="0" stop-color="#3e3e40"/><stop offset="0.12" stop-color="#5e5e60"/><stop offset="0.3" stop-color="#4a4a4c"/><stop offset="0.44" stop-color="#3a3a3c"/><stop offset="0.46" stop-color="#7a7a7c"/><stop offset="0.49" stop-color="#38383a"/><stop offset="0.8" stop-color="#262628"/><stop offset="1" stop-color="#101012"/></linearGradient><linearGradient id="chip" x1="0" x2="0" y1="0" y2="1"><stop offset="0" stop-color="#2a2a2a"/><stop offset="1" stop-color="#151515"/></linearGradient><radialGradient id="gcap" cx="0.5" cy="0.5" r="0.5"><stop offset="0.65" stop-color="#1d5a40"/><stop offset="0.9" stop-color="#2c7a55"/><stop offset="1" stop-color="#16402e"/></radialGradient><radialGradient id="shadow" cx="0.5" cy="0.5" r="0.5"><stop offset="0" stop-color="#000" stop-opacity="0.25"/><stop offset="1" stop-color="#000" stop-opacity="0"/></radialGradient></defs><ellipse cx="690" cy="928" rx="225" ry="8" fill="url(#shadow)" opacity="0.5"/><path d="M469.5 668.75 L910 668.75 L910 741.25 L878.75 741.25 L878.75 865 L908 865 L908 921.25 L469.5 921.25 L469.5 858.75 L500 858.75 L500 733.75 L469.5 733.75 Z" fill="#194c8c"/><path d="M521 670 L521 733 M500 733.75 L521 733.75" stroke="#143f76" stroke-width="1.5" fill="none"/><path d="M530 900 L545 915 L600 915" stroke="#143f76" stroke-width="3" fill="none"/><path d="M568 860 L568 921" stroke="#0f3f7a" stroke-width="1.6" fill="none"/><path d="M845 880 L845 921" stroke="#0f3f7a" stroke-width="1.2" fill="none"/><rect x="503" y="760" width="80" height="60" fill="#143f76" opacity="0.5"/><rect x="590" y="770" width="120" height="40" fill="#143f76" opacity="0.45"/><rect x="720" y="780" width="60" height="90" fill="#143f76" opacity="0.45"/><path d="M596 735 L596 746 L640 746 L640 735" stroke="#c9d8ee" stroke-width="1" fill="none" opacity="0.8"/><circle cx="717" cy="871" r="52" fill="none" stroke="#c8d8f0" stroke-width="1.1" opacity="0.9"/><rect x="472.25" y="685.8" width="23" height="33" rx="11.5" fill="#dcdcdc"/><circle cx="483.75" cy="702.3" r="4.6" fill="#d4703c"/><rect x="884.0" y="689.75" width="23" height="33" rx="11.5" fill="#dcdcdc"/><circle cx="895.5" cy="706.25" r="4.6" fill="#d4703c"/><rect x="476.0" y="881.0" width="23" height="33" rx="11.5" fill="#dcdcdc"/><circle cx="487.5" cy="897.5" r="4.6" fill="#d4703c"/><rect x="881.5" y="881.0" width="23" height="33" rx="11.5" fill="#dcdcdc"/><circle cx="893" cy="897.5" r="4.6" fill="#d4703c"/><text x="482.5" y="682.5" font-size="11.5" fill="#cfdcf2" textLength="25" lengthAdjust="spacingAndGlyphs">UIN-</text><text x="547.5" y="701" font-size="11.5" fill="#cfdcf2" textLength="22.5" lengthAdjust="spacingAndGlyphs">CE2</text><text x="878.75" y="738.75" font-size="11.5" fill="#cfdcf2" textLength="27.5" lengthAdjust="spacingAndGlyphs">OUT-</text><text x="877.5" y="878.75" font-size="11.5" fill="#cfdcf2" textLength="28.5" lengthAdjust="spacingAndGlyphs">OUT+</text><text x="471" y="873.75" font-size="11.5" fill="#cfdcf2" textLength="31.5" lengthAdjust="spacingAndGlyphs">ACC+</text><text x="507.5" y="886" font-size="11.5" fill="#cfdcf2" textLength="21.5" lengthAdjust="spacingAndGlyphs">FU1</text><text x="763.75" y="715" font-size="11.5" fill="#cfdcf2" textLength="13.75" lengthAdjust="spacingAndGlyphs">L2</text><text x="732" y="784" font-size="11" fill="#cfdcf2" textLength="15" lengthAdjust="spacingAndGlyphs">C3</text><text x="845" y="811" font-size="11.5" fill="#cfdcf2" textLength="14" lengthAdjust="spacingAndGlyphs">C6</text><text x="852.5" y="830" font-size="11.5" fill="#cfdcf2" textLength="13.5" lengthAdjust="spacingAndGlyphs">C5</text><text x="876.7" y="792" font-size="11.5" fill="#cfdcf2" textLength="21.4" lengthAdjust="spacingAndGlyphs" transform="rotate(-90 876.7 792)">R13</text><text x="863.3" y="786" font-size="11.5" fill="#cfdcf2" textLength="14.8" lengthAdjust="spacingAndGlyphs" transform="rotate(-90 863.3 786)">C4</text><rect x="851.6" y="742.4" width="12.3" height="25.8" rx="1.5" fill="#cfcfd2"/><rect x="852.6" y="750" width="10.3" height="10" fill="#8a6a4a"/><rect x="865.7" y="742.4" width="11.6" height="25.8" rx="1.5" fill="#d2d2d4"/><rect x="867" y="750" width="9" height="10" fill="#333"/><rect x="501" y="889" width="18" height="15" fill="#4c8a4a"/><text x="504.5" y="902" font-size="13" fill="#dfe" >d</text><rect x="520" y="888" width="45" height="16" fill="#c9c9cc"/><rect x="572" y="842" width="30" height="78" fill="#2a3a55"/><rect x="574" y="844" width="7" height="10" fill="#cfcfd2"/><rect x="581" y="844" width="12" height="10" fill="#333"/><rect x="593" y="844" width="7" height="10" fill="#cfcfd2"/><rect x="574" y="859" width="7" height="10" fill="#cfcfd2"/><rect x="581" y="859" width="12" height="10" fill="#333"/><rect x="593" y="859" width="7" height="10" fill="#cfcfd2"/><rect x="574" y="874" width="7" height="10" fill="#cfcfd2"/><rect x="581" y="874" width="12" height="10" fill="#333"/><rect x="593" y="874" width="7" height="10" fill="#cfcfd2"/><rect x="574" y="889" width="7" height="10" fill="#cfcfd2"/><rect x="581" y="889" width="12" height="10" fill="#333"/><rect x="593" y="889" width="7" height="10" fill="#cfcfd2"/><rect x="574" y="904" width="7" height="10" fill="#cfcfd2"/><rect x="581" y="904" width="12" height="10" fill="#333"/><rect x="593" y="904" width="7" height="10" fill="#cfcfd2"/><circle cx="536" cy="745" r="35" fill="#1a5aa6" stroke="#d8e4f4" stroke-width="1.4"/><circle cx="536" cy="745" r="28" fill="#1b1b1b"/><circle cx="536" cy="744" r="24" fill="#262626"/><circle cx="535" cy="812.5" r="31" fill="url(#capring)"/><circle cx="537" cy="812.5" r="24" fill="url(#silv)"/><path d="M506 805 Q510 785 530 782" stroke="#eee" stroke-width="3" fill="none" opacity="0.8"/><rect x="572.6" y="773.7" width="28.7" height="45.3" fill="url(#chip)"/><rect x="602" y="779" width="14" height="6" fill="#d0d0d2"/><rect x="602" y="792" width="14" height="6" fill="#d0d0d2"/><rect x="602" y="805" width="14" height="6" fill="#d0d0d2"/><rect x="535" y="853.75" width="27.5" height="41.25" fill="url(#chip)"/><rect x="538" y="846" width="20" height="8" fill="#ccc"/><rect x="738.75" y="738.75" width="51.25" height="36.25" fill="url(#chip)"/><rect x="744.0" y="777" width="4" height="14" fill="#dadada"/><rect x="745.0" y="718" width="4" height="19" fill="#dadada"/><rect x="756.5" y="777" width="4" height="14" fill="#dadada"/><rect x="757.5" y="718" width="4" height="19" fill="#dadada"/><rect x="769.0" y="777" width="4" height="14" fill="#dadada"/><rect x="770.0" y="718" width="4" height="19" fill="#dadada"/><rect x="781.5" y="777" width="4" height="14" fill="#dadada"/><rect x="782.5" y="718" width="4" height="19" fill="#dadada"/><rect x="852.5" y="681" width="25" height="34" fill="#e6e6e8"/><rect x="791" y="682" width="15" height="28" fill="#c6c6c8"/><rect x="807.5" y="675" width="45" height="35" fill="url(#chip)"/><rect x="758" y="670" width="12" height="40" fill="#c8c8ca"/><rect x="760" y="675" width="8" height="12" fill="#3a3a3a"/><rect x="760" y="692" width="8" height="12" fill="#444"/><rect x="773" y="670" width="14" height="30" fill="#d4d4d6"/><rect x="607" y="753" width="24" height="14" fill="#cfcfd2"/><rect x="613" y="754" width="12" height="12" fill="#222"/><rect x="640" y="748" width="12" height="20" fill="#c9c9cc"/><rect x="755" y="876" width="57.5" height="24" fill="#d0d0d2"/><rect x="770" y="878.5" width="22.5" height="19" fill="#1c1c1c"/><text x="773" y="891" font-size="7" fill="#ddd" transform="rotate(180 781 888)">R025</text><rect x="800" y="813" width="45" height="27" fill="none" stroke="#d8e4f4" stroke-width="1.2"/><rect x="806" y="817" width="10" height="18" fill="#cdcdd0"/><rect x="816" y="817" width="14" height="18" fill="#8a6a4a"/><rect x="830" y="817" width="10" height="18" fill="#cdcdd0"/><rect x="808" y="740" width="10" height="32" fill="#cfcfd2"/><rect x="822" y="740" width="10" height="32" fill="#cfcfd2"/><circle cx="699" cy="764.9" r="31" fill="url(#capring)"/><circle cx="698" cy="765" r="24" fill="url(#silv)"/><circle cx="834" cy="866" r="35.5" fill="url(#gcap)"/><path d="M848 838 A30 30 0 0 1 862 880" stroke="#d8c83a" stroke-width="4" fill="none"/><circle cx="835" cy="866" r="25" fill="url(#silv)"/><rect x="586.4" y="656" width="169.6" height="81.5" rx="9" fill="url(#ind)"/><rect x="574" y="690" width="14" height="14" rx="7" fill="#c8c8cc"/><rect x="574" y="713" width="14" height="14" rx="7" fill="#b8b8bc"/><rect x="799" y="709" width="48" height="108" rx="20" fill="#7a5a24"/><rect x="807" y="742" width="32" height="50" rx="4" fill="#5cb24a"/><path d="M800 714.0 Q823 722.0 847 714.0" stroke="#efd040" stroke-width="4.6" fill="none" stroke-linecap="round"/><path d="M800 720.9 Q823 728.9 847 720.9" stroke="#f2e6d2" stroke-width="4.6" fill="none" stroke-linecap="round"/><path d="M800 727.8 Q823 735.8 847 727.8" stroke="#efd040" stroke-width="4.6" fill="none" stroke-linecap="round"/><path d="M801 734.7 Q823 740.7 846 734.7" stroke="#f2e6d2" stroke-width="4.4" fill="none" stroke-linecap="round"/><path d="M800 741.6 Q823 749.6 847 741.6" stroke="#efd040" stroke-width="4.6" fill="none" stroke-linecap="round"/><path d="M801 748.5 Q823 754.5 846 748.5" stroke="#f2e6d2" stroke-width="4.4" fill="none" stroke-linecap="round"/><path d="M800 755.4 Q823 763.4 847 755.4" stroke="#efd040" stroke-width="4.6" fill="none" stroke-linecap="round"/><path d="M801 762.3 Q823 768.3 846 762.3" stroke="#f2e6d2" stroke-width="4.4" fill="none" stroke-linecap="round"/><path d="M800 769.2 Q823 777.2 847 769.2" stroke="#efd040" stroke-width="4.6" fill="none" stroke-linecap="round"/><path d="M800 776.1 Q823 784.1 847 776.1" stroke="#f2e6d2" stroke-width="4.6" fill="none" stroke-linecap="round"/><path d="M800 783.0 Q823 791.0 847 783.0" stroke="#efd040" stroke-width="4.6" fill="none" stroke-linecap="round"/><path d="M800 789.9 Q823 797.9 847 789.9" stroke="#f2e6d2" stroke-width="4.6" fill="none" stroke-linecap="round"/><path d="M800 796.8 Q823 804.8 847 796.8" stroke="#efd040" stroke-width="4.6" fill="none" stroke-linecap="round"/><path d="M800 803.7 Q823 811.7 847 803.7" stroke="#f2e6d2" stroke-width="4.6" fill="none" stroke-linecap="round"/><path d="M800 810.6 Q823 818.6 847 810.6" stroke="#efd040" stroke-width="4.6" fill="none" stroke-linecap="round"/><path d="M801 716 Q823 700 846 716" stroke="#efd040" stroke-width="5" fill="none" stroke-linecap="round"/><ellipse cx="674" cy="871" rx="72" ry="70" fill="#2a201c"/><path d="M676.8 846.0 L689.4 799.4 L678.3 797.9 L671.2 846.0 Z" fill="#8a3a10" stroke="#8a3a10" stroke-width="2.4" stroke-linejoin="round"/><path d="M676.0 844.5 L687.9 800.2 L679.6 799.1 L672.0 844.5 Z" fill="#ee9248" stroke="#ee9248" stroke-width="1.6" stroke-linejoin="round"/><path d="M674.5 841.0 L684.6 802.6 L682.0 802.3 L673.5 841.0 Z" fill="#ffcf9c" stroke="#ffcf9c" stroke-width="1" stroke-linejoin="round"/><path d="M683.2 847.6 L708.2 805.7 L697.8 801.4 L677.8 846.1 Z" fill="#8a3a10" stroke="#8a3a10" stroke-width="2.4" stroke-linejoin="round"/><path d="M682.8 845.9 L706.5 806.1 L698.8 802.9 L678.9 844.9 Z" fill="#ee9248" stroke="#ee9248" stroke-width="1.6" stroke-linejoin="round"/><path d="M682.2 842.2 L702.7 807.6 L700.3 806.6 L681.3 841.9 Z" fill="#ffcf9c" stroke="#ffcf9c" stroke-width="1" stroke-linejoin="round"/><path d="M688.9 850.7 L724.7 816.5 L715.8 809.7 L684.1 847.9 Z" fill="#8a3a10" stroke="#8a3a10" stroke-width="2.4" stroke-linejoin="round"/><path d="M689.0 849.1 L722.9 816.4 L716.3 811.3 L685.5 847.1 Z" fill="#ee9248" stroke="#ee9248" stroke-width="1.6" stroke-linejoin="round"/><path d="M689.4 845.3 L718.8 816.9 L716.7 815.3 L688.6 844.8 Z" fill="#ffcf9c" stroke="#ffcf9c" stroke-width="1" stroke-linejoin="round"/><path d="M693.7 855.3 L737.7 831.0 L730.8 822.1 L689.7 851.3 Z" fill="#8a3a10" stroke="#8a3a10" stroke-width="2.4" stroke-linejoin="round"/><path d="M694.2 853.7 L736.0 830.4 L730.9 823.8 L691.3 850.8 Z" fill="#ee9248" stroke="#ee9248" stroke-width="1.6" stroke-linejoin="round"/><path d="M695.6 850.1 L731.9 829.9 L730.3 827.8 L694.9 849.4 Z" fill="#ffcf9c" stroke="#ffcf9c" stroke-width="1" stroke-linejoin="round"/><path d="M697.1 860.9 L746.3 848.2 L742.0 837.8 L694.3 856.1 Z" fill="#8a3a10" stroke="#8a3a10" stroke-width="2.4" stroke-linejoin="round"/><path d="M697.9 859.5 L744.9 847.3 L741.7 839.5 L695.9 856.0 Z" fill="#ee9248" stroke="#ee9248" stroke-width="1.6" stroke-linejoin="round"/><path d="M700.2 856.4 L741.0 845.7 L740.0 843.3 L699.7 855.6 Z" fill="#ffcf9c" stroke="#ffcf9c" stroke-width="1" stroke-linejoin="round"/><path d="M698.9 867.2 L750.1 867.0 L748.6 855.9 L697.4 861.8 Z" fill="#8a3a10" stroke="#8a3a10" stroke-width="2.4" stroke-linejoin="round"/><path d="M700.1 866.1 L748.9 865.7 L747.8 857.4 L699.1 862.2 Z" fill="#ee9248" stroke="#ee9248" stroke-width="1.6" stroke-linejoin="round"/><path d="M703.1 863.7 L745.5 863.2 L745.2 860.6 L702.8 862.8 Z" fill="#ffcf9c" stroke="#ffcf9c" stroke-width="1" stroke-linejoin="round"/><path d="M699.0 873.8 L748.6 886.0 L750.1 874.9 L699.0 868.2 Z" fill="#8a3a10" stroke="#8a3a10" stroke-width="2.4" stroke-linejoin="round"/><path d="M700.5 873.0 L747.8 884.5 L748.9 876.2 L700.5 869.0 Z" fill="#ee9248" stroke="#ee9248" stroke-width="1.6" stroke-linejoin="round"/><path d="M704.0 871.5 L745.2 881.2 L745.6 878.7 L704.0 870.5 Z" fill="#ffcf9c" stroke="#ffcf9c" stroke-width="1" stroke-linejoin="round"/><path d="M697.4 880.2 L742.1 904.0 L746.4 893.7 L698.9 874.8 Z" fill="#8a3a10" stroke="#8a3a10" stroke-width="2.4" stroke-linejoin="round"/><path d="M699.1 879.8 L741.7 902.4 L744.9 894.6 L700.1 875.9 Z" fill="#ee9248" stroke="#ee9248" stroke-width="1.6" stroke-linejoin="round"/><path d="M702.8 879.2 L740.0 898.6 L741.0 896.2 L703.1 878.3 Z" fill="#ffcf9c" stroke="#ffcf9c" stroke-width="1" stroke-linejoin="round"/><path d="M694.3 885.9 L730.9 919.8 L737.7 910.9 L697.1 881.1 Z" fill="#8a3a10" stroke="#8a3a10" stroke-width="2.4" stroke-linejoin="round"/><path d="M695.9 886.0 L731.0 918.1 L736.1 911.4 L697.9 882.5 Z" fill="#ee9248" stroke="#ee9248" stroke-width="1.6" stroke-linejoin="round"/><path d="M699.7 886.4 L730.4 914.1 L732.0 912.0 L700.2 885.6 Z" fill="#ffcf9c" stroke="#ffcf9c" stroke-width="1" stroke-linejoin="round"/><path d="M689.7 890.7 L715.9 932.3 L724.8 925.4 L693.7 886.7 Z" fill="#8a3a10" stroke="#8a3a10" stroke-width="2.4" stroke-linejoin="round"/><path d="M691.3 891.2 L716.4 930.6 L723.0 925.5 L694.2 888.3 Z" fill="#ee9248" stroke="#ee9248" stroke-width="1.6" stroke-linejoin="round"/><path d="M694.9 892.6 L716.9 926.6 L718.9 925.0 L695.6 891.9 Z" fill="#ffcf9c" stroke="#ffcf9c" stroke-width="1" stroke-linejoin="round"/><path d="M684.1 894.1 L698.0 940.5 L708.3 936.2 L688.9 891.3 Z" fill="#8a3a10" stroke="#8a3a10" stroke-width="2.4" stroke-linejoin="round"/><path d="M685.5 894.9 L698.9 939.1 L706.6 935.9 L689.0 892.9 Z" fill="#ee9248" stroke="#ee9248" stroke-width="1.6" stroke-linejoin="round"/><path d="M688.6 897.2 L700.4 935.3 L702.8 934.3 L689.4 896.7 Z" fill="#ffcf9c" stroke="#ffcf9c" stroke-width="1" stroke-linejoin="round"/><path d="M677.8 895.9 L678.4 944.1 L689.5 942.6 L683.2 894.4 Z" fill="#8a3a10" stroke="#8a3a10" stroke-width="2.4" stroke-linejoin="round"/><path d="M678.9 897.1 L679.7 942.9 L688.0 941.8 L682.8 896.1 Z" fill="#ee9248" stroke="#ee9248" stroke-width="1.6" stroke-linejoin="round"/><path d="M681.3 900.1 L682.2 939.7 L684.8 939.3 L682.2 899.8 Z" fill="#ffcf9c" stroke="#ffcf9c" stroke-width="1" stroke-linejoin="round"/><path d="M671.2 896.0 L658.6 942.6 L669.7 944.1 L676.8 896.0 Z" fill="#8a3a10" stroke="#8a3a10" stroke-width="2.4" stroke-linejoin="round"/><path d="M672.0 897.5 L660.1 941.8 L668.4 942.9 L676.0 897.5 Z" fill="#ee9248" stroke="#ee9248" stroke-width="1.6" stroke-linejoin="round"/><path d="M673.5 901.0 L663.4 939.4 L666.0 939.7 L674.5 901.0 Z" fill="#ffcf9c" stroke="#ffcf9c" stroke-width="1" stroke-linejoin="round"/><path d="M664.8 894.4 L639.8 936.3 L650.2 940.6 L670.2 895.9 Z" fill="#8a3a10" stroke="#8a3a10" stroke-width="2.4" stroke-linejoin="round"/><path d="M665.2 896.1 L641.5 935.9 L649.2 939.1 L669.1 897.1 Z" fill="#ee9248" stroke="#ee9248" stroke-width="1.6" stroke-linejoin="round"/><path d="M665.8 899.8 L645.3 934.4 L647.7 935.4 L666.7 900.1 Z" fill="#ffcf9c" stroke="#ffcf9c" stroke-width="1" stroke-linejoin="round"/><path d="M659.1 891.3 L623.3 925.5 L632.2 932.3 L663.9 894.1 Z" fill="#8a3a10" stroke="#8a3a10" stroke-width="2.4" stroke-linejoin="round"/><path d="M659.0 892.9 L625.1 925.6 L631.7 930.7 L662.5 894.9 Z" fill="#ee9248" stroke="#ee9248" stroke-width="1.6" stroke-linejoin="round"/><path d="M658.6 896.7 L629.2 925.1 L631.3 926.7 L659.4 897.2 Z" fill="#ffcf9c" stroke="#ffcf9c" stroke-width="1" stroke-linejoin="round"/><path d="M654.3 886.7 L610.3 911.0 L617.2 919.9 L658.3 890.7 Z" fill="#8a3a10" stroke="#8a3a10" stroke-width="2.4" stroke-linejoin="round"/><path d="M653.8 888.3 L612.0 911.6 L617.1 918.2 L656.7 891.2 Z" fill="#ee9248" stroke="#ee9248" stroke-width="1.6" stroke-linejoin="round"/><path d="M652.4 891.9 L616.1 912.1 L617.7 914.2 L653.1 892.6 Z" fill="#ffcf9c" stroke="#ffcf9c" stroke-width="1" stroke-linejoin="round"/><path d="M650.9 881.1 L601.7 893.8 L606.0 904.2 L653.7 885.9 Z" fill="#8a3a10" stroke="#8a3a10" stroke-width="2.4" stroke-linejoin="round"/><path d="M650.1 882.5 L603.1 894.7 L606.3 902.5 L652.1 886.0 Z" fill="#ee9248" stroke="#ee9248" stroke-width="1.6" stroke-linejoin="round"/><path d="M647.8 885.6 L607.0 896.3 L608.0 898.7 L648.3 886.4 Z" fill="#ffcf9c" stroke="#ffcf9c" stroke-width="1" stroke-linejoin="round"/><path d="M649.1 874.8 L597.9 875.0 L599.4 886.1 L650.6 880.2 Z" fill="#8a3a10" stroke="#8a3a10" stroke-width="2.4" stroke-linejoin="round"/><path d="M647.9 875.9 L599.1 876.3 L600.2 884.6 L648.9 879.8 Z" fill="#ee9248" stroke="#ee9248" stroke-width="1.6" stroke-linejoin="round"/><path d="M644.9 878.3 L602.5 878.8 L602.8 881.4 L645.2 879.2 Z" fill="#ffcf9c" stroke="#ffcf9c" stroke-width="1" stroke-linejoin="round"/><path d="M649.0 868.2 L599.4 856.0 L597.9 867.1 L649.0 873.8 Z" fill="#8a3a10" stroke="#8a3a10" stroke-width="2.4" stroke-linejoin="round"/><path d="M647.5 869.0 L600.2 857.5 L599.1 865.8 L647.5 873.0 Z" fill="#ee9248" stroke="#ee9248" stroke-width="1.6" stroke-linejoin="round"/><path d="M644.0 870.5 L602.8 860.8 L602.4 863.3 L644.0 871.5 Z" fill="#ffcf9c" stroke="#ffcf9c" stroke-width="1" stroke-linejoin="round"/><path d="M650.6 861.8 L605.9 838.0 L601.6 848.3 L649.1 867.2 Z" fill="#8a3a10" stroke="#8a3a10" stroke-width="2.4" stroke-linejoin="round"/><path d="M648.9 862.2 L606.3 839.6 L603.1 847.4 L647.9 866.1 Z" fill="#ee9248" stroke="#ee9248" stroke-width="1.6" stroke-linejoin="round"/><path d="M645.2 862.8 L608.0 843.4 L607.0 845.8 L644.9 863.7 Z" fill="#ffcf9c" stroke="#ffcf9c" stroke-width="1" stroke-linejoin="round"/><path d="M653.7 856.1 L617.1 822.2 L610.3 831.1 L650.9 860.9 Z" fill="#8a3a10" stroke="#8a3a10" stroke-width="2.4" stroke-linejoin="round"/><path d="M652.1 856.0 L617.0 823.9 L611.9 830.6 L650.1 859.5 Z" fill="#ee9248" stroke="#ee9248" stroke-width="1.6" stroke-linejoin="round"/><path d="M648.3 855.6 L617.6 827.9 L616.0 830.0 L647.8 856.4 Z" fill="#ffcf9c" stroke="#ffcf9c" stroke-width="1" stroke-linejoin="round"/><path d="M658.3 851.3 L632.1 809.7 L623.2 816.6 L654.3 855.3 Z" fill="#8a3a10" stroke="#8a3a10" stroke-width="2.4" stroke-linejoin="round"/><path d="M656.7 850.8 L631.6 811.4 L625.0 816.5 L653.8 853.7 Z" fill="#ee9248" stroke="#ee9248" stroke-width="1.6" stroke-linejoin="round"/><path d="M653.1 849.4 L631.1 815.4 L629.1 817.0 L652.4 850.1 Z" fill="#ffcf9c" stroke="#ffcf9c" stroke-width="1" stroke-linejoin="round"/><path d="M663.9 847.9 L650.0 801.5 L639.7 805.8 L659.1 850.7 Z" fill="#8a3a10" stroke="#8a3a10" stroke-width="2.4" stroke-linejoin="round"/><path d="M662.5 847.1 L649.1 802.9 L641.4 806.1 L659.0 849.1 Z" fill="#ee9248" stroke="#ee9248" stroke-width="1.6" stroke-linejoin="round"/><path d="M659.4 844.8 L647.6 806.7 L645.2 807.7 L658.6 845.3 Z" fill="#ffcf9c" stroke="#ffcf9c" stroke-width="1" stroke-linejoin="round"/><path d="M670.2 846.1 L669.6 797.9 L658.5 799.4 L664.8 847.6 Z" fill="#8a3a10" stroke="#8a3a10" stroke-width="2.4" stroke-linejoin="round"/><path d="M669.1 844.9 L668.3 799.1 L660.0 800.2 L665.2 845.9 Z" fill="#ee9248" stroke="#ee9248" stroke-width="1.6" stroke-linejoin="round"/><path d="M666.7 841.9 L665.8 802.3 L663.2 802.7 L665.8 842.2 Z" fill="#ffcf9c" stroke="#ffcf9c" stroke-width="1" stroke-linejoin="round"/><circle cx="674" cy="871" r="25" fill="#1b1716"/><rect x="660" y="855" width="28" height="30" fill="#111"/><defs><clipPath id="phc"><path d="M733.3 416 L935.6 416 L935.6 529 Q935.6 544.4 920 544.4 L733.3 544.4 Z"/></clipPath><filter id="pblur" x="-5%" y="-5%" width="110%" height="110%"><feGaussianBlur stdDeviation="0.8"/></filter><linearGradient id="armg" x1="0" x2="0" y1="0" y2="1"><stop offset="0" stop-color="#4e4e4e"/><stop offset="0.7" stop-color="#3c3c3c"/><stop offset="1" stop-color="#2a2a2a"/></linearGradient><linearGradient id="lowg" x1="0" x2="0" y1="0" y2="1"><stop offset="0" stop-color="#5e5e5e"/><stop offset="1" stop-color="#565656"/></linearGradient><linearGradient id="dashside" x1="0" x2="1"><stop offset="0" stop-color="#6a6a6a"/><stop offset="0.7" stop-color="#8e8e8e"/><stop offset="1" stop-color="#a8a8a8"/></linearGradient><linearGradient id="dashface" x1="0" x2="0" y1="0" y2="1"><stop offset="0" stop-color="#9a9c9b"/><stop offset="1" stop-color="#7a7b7a"/></linearGradient></defs><g clip-path="url(#phc)"><g filter="url(#pblur)"><rect x="733" y="416" width="203" height="129" fill="#5a5a5a"/><rect x="733" y="416" width="72" height="34" fill="#383838"/><path d="M733 416 L752 416 L756 449 L733 449 Z" fill="#262626"/><path d="M736 432 L750 430 L752 446 L736 447 Z" fill="#5e5e5e"/><path d="M752 416 L756 449 L760 449 L756 416 Z" fill="#1e1e1e"/><circle cx="775" cy="433" r="10.5" fill="#4c4c4c"/><circle cx="775" cy="433" r="8" fill="#2c2c2c"/><circle cx="776" cy="432" r="5" fill="#3a3a3a"/><path d="M790 416 L800 416 L806 449 L796 449 Z" fill="#2c2c2c"/><path d="M733 449 L800 446 Q808 447 806 458 L801 484 L733 486 Z" fill="url(#armg)"/><path d="M733 476 L798 474 L797 479 L733 481 Z" fill="#6a6a6a"/><path d="M733 483 L797 481 L796 486 L733 488 Z" fill="#1e1e1e"/><path d="M733 488 L796 486 L804 544.4 L733 544.4 Z" fill="url(#lowg)"/><path d="M733 503 L790 500 L791 506 L733 509 Z" fill="#707070"/><path d="M800 452 Q796 500 806 544.4 L786 544.4 Q780 510 784 478 Q790 460 800 452 Z" fill="#333"/><path d="M804 447 Q812 500 818 544.4 L806 544.4 Q798 500 800 452 Z" fill="#3e3e3e"/><path d="M789 416 L794 416 Q812 470 820 544.4 L816 544.4 Q806 470 789 416 Z" fill="#d4d4d4"/><path d="M808 416 L833 416 L832 544.4 L818 544.4 Q816 470 808 416 Z" fill="#e4e4e4"/><path d="M822 440 L826 440 L826 544 L822 544 Z" fill="#cfcfcf"/><path d="M829 416 L845 416 Q836 470 842 544.4 L832 544.4 Q826 470 829 416 Z" fill="#2e2e2e"/><path d="M841 416 L858 416 Q849 432 848 454 L840 454 Q839 432 841 416 Z" fill="#d6c9af"/><rect x="855" y="416" width="81" height="18" fill="#b4b9b5"/><path d="M870 418 L900 418 L900 426 L870 428 Z" fill="#8a918c"/><path d="M855 432 L936 428 L936 442 L858 446 Z" fill="#3c4241"/><path d="M848 446 L936 438 L936 515 L866 515 L848 470 Z" fill="url(#dashface)"/><path d="M840 454 L856 452 Q872 480 872 544.4 L838 544.4 Q834 500 840 454 Z" fill="url(#dashside)"/><path d="M858 455 Q874 485 873 530 L870 530 Q869 490 855 457 Z" fill="#b5b5b5"/><path d="M887 446 Q892 441 902 443 Q907 446 907 455 L907 484 Q906 490 900 490 L893 490 Q887 488 887 480 Z" fill="#c2c2c2"/><path d="M890 449 Q894 445 901 447 Q904 449 904 456 L904 482 Q903 486 899 486 L894 486 Q890 484 890 478 Z" fill="#262626"/><rect x="891" y="452.0" width="12" height="1.6" fill="#5a5a5a"/><rect x="891" y="457.5" width="12" height="1.6" fill="#5a5a5a"/><rect x="891" y="463.0" width="12" height="1.6" fill="#5a5a5a"/><rect x="891" y="468.5" width="12" height="1.6" fill="#5a5a5a"/><rect x="891" y="474.0" width="12" height="1.6" fill="#5a5a5a"/><rect x="891" y="479.5" width="12" height="1.6" fill="#5a5a5a"/><rect x="897" y="486" width="17" height="13" fill="#222"/><rect x="900" y="489" width="4" height="3" fill="#ddd"/><rect x="907" y="489" width="4" height="3" fill="#ddd"/><path d="M910 440 L936 436 L936 480 L915 482 Q909 460 910 440 Z" fill="#2e3232"/><circle cx="919" cy="464" r="9" fill="none" stroke="#777" stroke-width="1.2"/><circle cx="921.4" cy="456.8" r="1.3" fill="#e44"/><path d="M916 474 L936 470 L936 512 L920 512 Z" fill="#5a5a5a"/><path d="M866 506 L936 500 L936 544.4 L866 544.4 Z" fill="#383a3a"/><rect x="873.0" y="514" width="3.6" height="10" fill="#1e1e1e"/><rect x="878.5" y="514" width="3.6" height="10" fill="#1e1e1e"/><rect x="884.0" y="514" width="3.6" height="10" fill="#1e1e1e"/><rect x="889.5" y="514" width="3.6" height="10" fill="#1e1e1e"/><rect x="895.0" y="514" width="3.6" height="10" fill="#1e1e1e"/><rect x="900.5" y="514" width="3.6" height="10" fill="#1e1e1e"/></g></g><path d="M694.7 448 L850.6 533" stroke="#d0121e" stroke-width="2.6" fill="none"/><circle cx="850.6" cy="533" r="3.8" fill="#d0121e"/><text x="468.1" y="434.3" font-size="13.2" font-weight="normal" fill="#333" text-anchor="start" textLength="211.8" lengthAdjust="spacingAndGlyphs" stroke="#333" stroke-width="0.55">Note: the negative pole is connect-</text><text x="468.1" y="451.38" font-size="13.2" font-weight="normal" fill="#333" text-anchor="start" textLength="213.6" lengthAdjust="spacingAndGlyphs" stroke="#333" stroke-width="0.55">ed to the car tower iron, the plastic</text><text x="468.1" y="468.46000000000004" font-size="13.2" font-weight="normal" fill="#333" text-anchor="start" textLength="211.8" lengthAdjust="spacingAndGlyphs" stroke="#333" stroke-width="0.55">cover of the door frame on the left</text><text x="468.1" y="485.54" font-size="13.2" font-weight="normal" fill="#333" text-anchor="start" textLength="212.2" lengthAdjust="spacingAndGlyphs" stroke="#333" stroke-width="0.55">side of the safe box can be opened</text><text x="468.1" y="502.62" font-size="13.2" font-weight="normal" fill="#333" text-anchor="start" textLength="188.7" lengthAdjust="spacingAndGlyphs" stroke="#333" stroke-width="0.55">and stuck in a screw below the</text><text x="468.1" y="519.7" font-size="13.2" font-weight="normal" fill="#333" text-anchor="start" textLength="38" lengthAdjust="spacingAndGlyphs" stroke="#333" stroke-width="0.55">cover.</text><circle cx="485.2" cy="569.2" r="2.6" fill="#2b2b2b"/><text x="490" y="582.5" font-size="38" font-weight="normal" fill="#2b2b2b" text-anchor="start" textLength="376" lengthAdjust="spacingAndGlyphs" stroke="#2b2b2b" stroke-width="0.7">Installation reference</text><circle cx="563.1" cy="1021.6" r="2.5" fill="#2b2b2b"/><text x="568" y="1034.2" font-size="37" font-weight="normal" fill="#2b2b2b" text-anchor="start" textLength="222" lengthAdjust="spacingAndGlyphs" stroke="#2b2b2b" stroke-width="0.7">Internal chip</text>
</svg>
</body></html>
